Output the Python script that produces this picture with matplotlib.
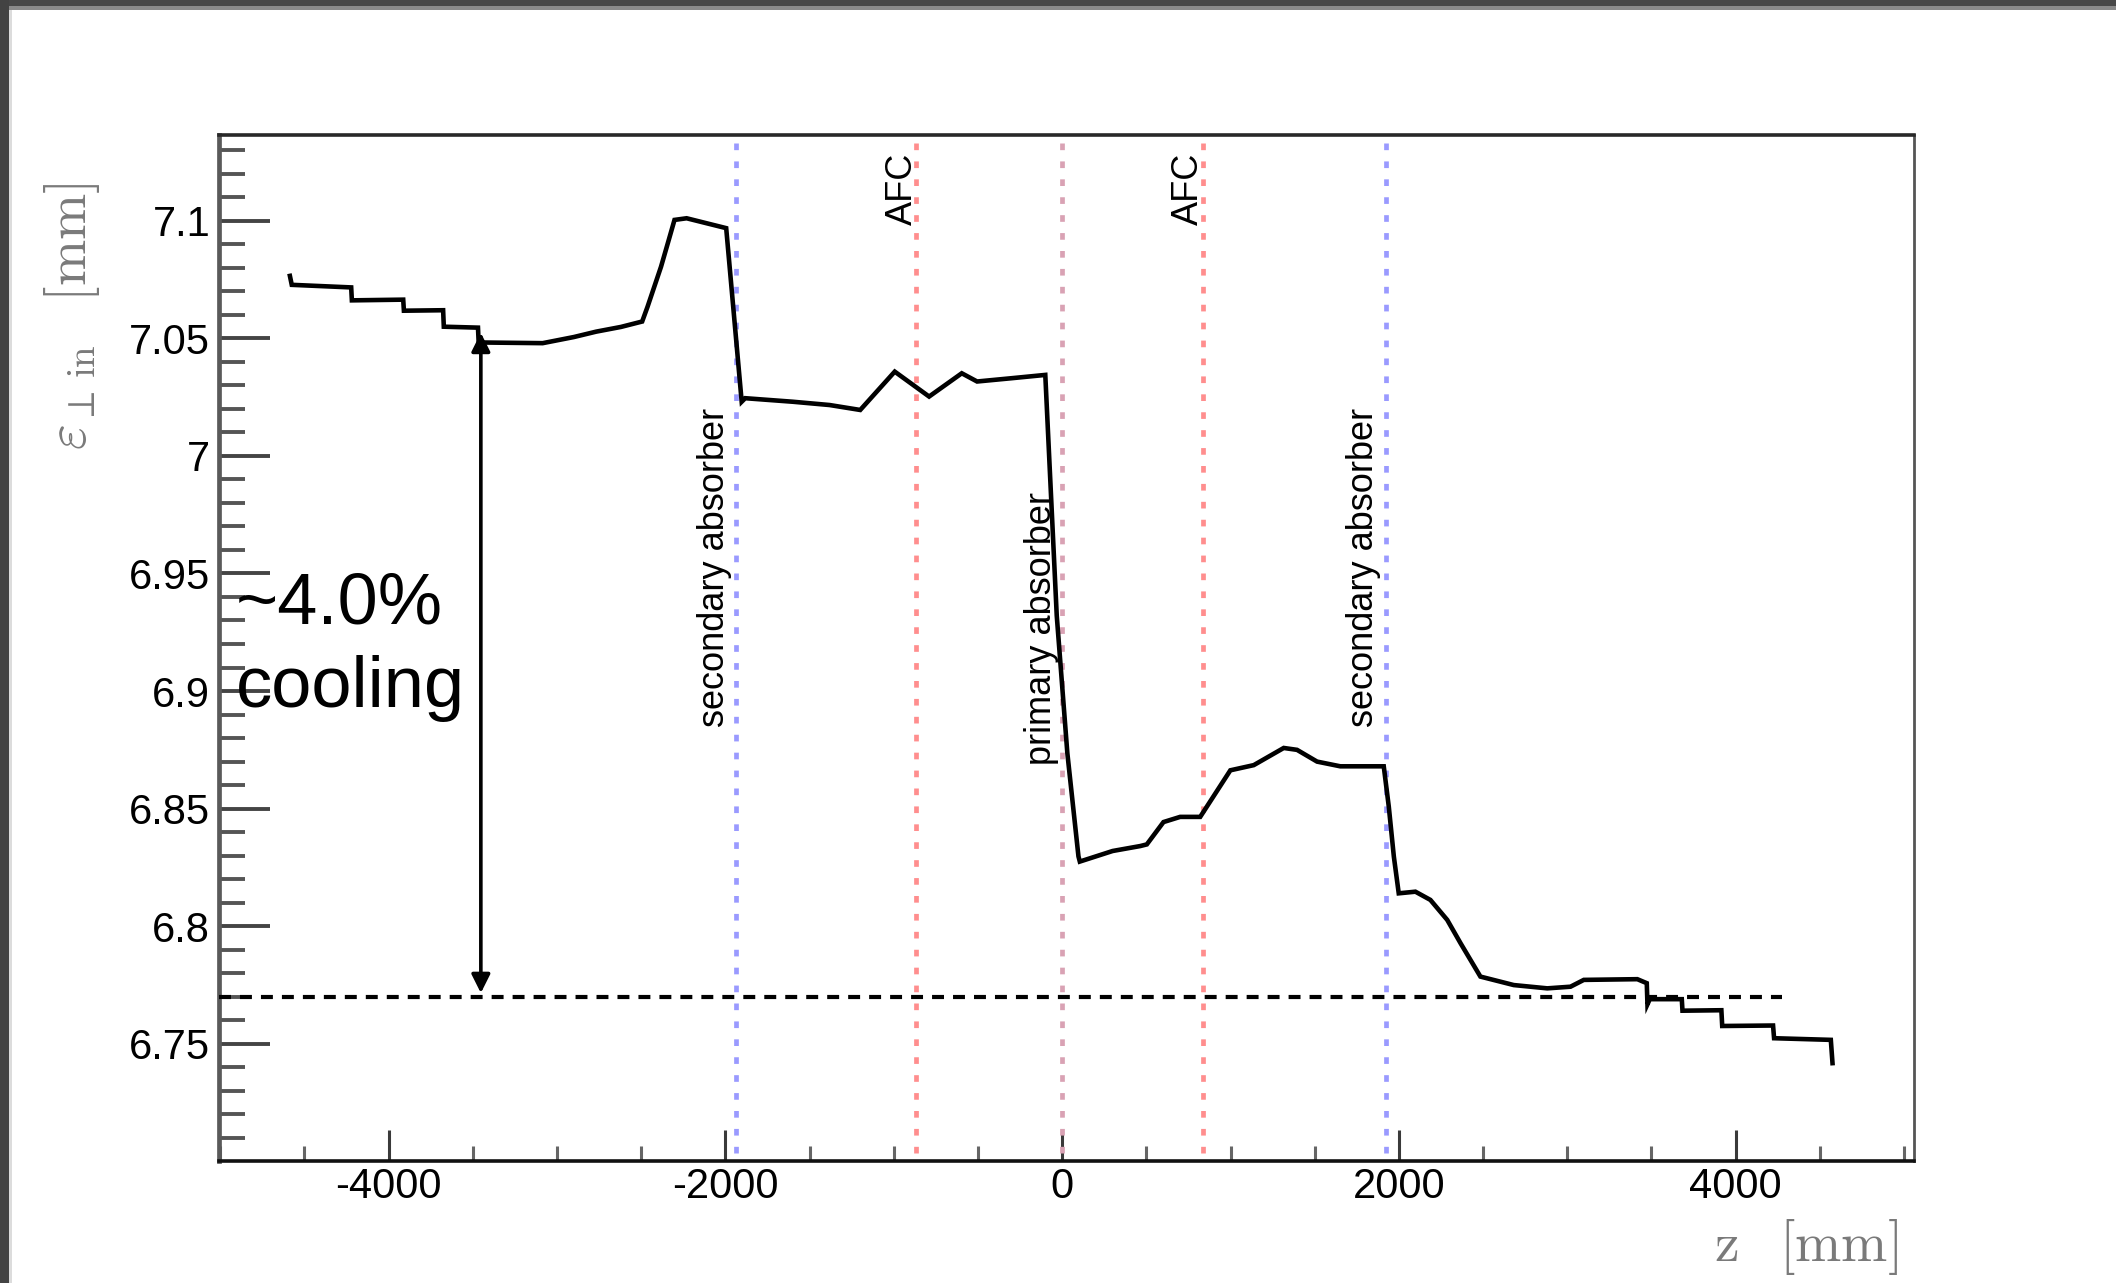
import matplotlib
matplotlib.use("Agg")
import matplotlib.pyplot as plt
from matplotlib.patches import Rectangle, FancyArrowPatch
from matplotlib.ticker import MultipleLocator, FuncFormatter

# Transverse emittance along the cooling channel
z_mm = [-4586, -4575, -4222, -4218, -3913, -3909, -3676, -3672, -3469, -3465,
        -3085, -2900, -2767, -2620, -2494, -2462, -2382, -2336, -2302, -2230,
        -1995, -1903, -1882, -1600, -1381, -1199, -994, -790, -596, -505,
        -300, -100, -71, -32, 31, 97, 105, 300, 464, 503, 602, 701, 820, 999,
        1138, 1316, 1395, 1514, 1652, 1910, 1940, 1970, 1999, 2098, 2187, 2287,
        2366, 2484, 2682, 2881, 3019, 3098, 3416, 3472, 3476, 3490, 3680, 3684,
        3915, 3920, 4222, 4228, 4565, 4575]
emittance_mm = [7.0765, 7.0727, 7.0716, 7.0661, 7.0664, 7.0617, 7.0619, 7.0549, 7.0545, 7.0482,
                7.0479, 7.0505, 7.0528, 7.0548, 7.0571, 7.0634, 7.0804, 7.0918, 7.1003, 7.1010,
                7.0968, 7.0230, 7.0245, 7.0230, 7.0216, 7.0195, 7.0358, 7.0252, 7.0351, 7.0316,
                7.0330, 7.0344, 6.9907, 6.9321, 6.8736, 6.8297, 6.8275, 6.8320, 6.8341, 6.8348,
                6.8443, 6.8465, 6.8465, 6.8663, 6.8685, 6.8758, 6.8750, 6.8700, 6.8680, 6.8680,
                6.8508, 6.8296, 6.8140, 6.8147, 6.8112, 6.8027, 6.7928, 6.7786, 6.7750, 6.7736,
                6.7743, 6.7772, 6.7775, 6.7758, 6.7668, 6.7690, 6.7690, 6.7641, 6.7643, 6.7576,
                6.7578, 6.7524, 6.7517, 6.7418]

# Element positions along z
element_names = ["secondary absorber", "AFC", "primary absorber", "AFC", "secondary absorber"]
element_z = [-1934, -865, 0, 835, 1923]
element_kind = ["secondary", "afc", "primary", "afc", "secondary"]

final_emittance = 6.77
arrow_z = -3452
arrow_top = 7.0523
cooling_text = ["~4.0%", "cooling"]

plt.rcParams["axes.unicode_minus"] = False
plt.rcParams["mathtext.fontset"] = "cm"
plt.rcParams["lines.scale_dashes"] = False
plt.rcParams["font.family"] = ["Liberation Sans", "DejaVu Sans"]

W, H = 2116, 1283
fig = plt.figure(figsize=(W / 100, H / 100), dpi=100)
fig.patch.set_facecolor("white")

# frame bands along the top and left edges
fig.patches.append(Rectangle((0, 1 - 6 / H), 1, 6 / H, transform=fig.transFigure,
                             facecolor="#474747", edgecolor="none", zorder=0))
fig.patches.append(Rectangle((0, 1 - 10 / H), 1, 4 / H, transform=fig.transFigure,
                             facecolor="#8a8a8a", edgecolor="none", zorder=0))
fig.patches.append(Rectangle((0, 0), 9 / W, 1, transform=fig.transFigure,
                             facecolor="#434343", edgecolor="none", zorder=0))
fig.patches.append(Rectangle((9 / W, 0), 3 / W, 1 - 10 / H, transform=fig.transFigure,
                             facecolor="#dcdcdc", edgecolor="none", zorder=0))

ax = fig.add_axes([218.5 / W, 1 - 1161 / H, (1913.5 - 218.5) / W, (1161 - 135) / H])
ax.set_xlim(-5010, 5056)
ax.set_ylim(6.7002, 7.1364)

# spines
for side, col, lw in [("top", "#282828", 2.6), ("bottom", "#111111", 2.6),
                      ("left", "#5a5a5a", 3.4), ("right", "#555555", 2.0)]:
    ax.spines[side].set_color(col)
    ax.spines[side].set_linewidth(lw)

ax.xaxis.set_major_locator(MultipleLocator(2000))
ax.xaxis.set_minor_locator(MultipleLocator(500))
ax.yaxis.set_major_locator(MultipleLocator(0.05))
ax.yaxis.set_minor_locator(MultipleLocator(0.01))
ax.yaxis.set_major_formatter(FuncFormatter(lambda v, p: f"{round(v, 2):g}"))
ax.xaxis.set_major_formatter(FuncFormatter(lambda v, p: f"{int(round(v))}"))

ax.tick_params(axis="y", which="major", direction="in", length=37, width=2.8,
               color="#444444", labelsize=30, pad=6)
ax.tick_params(axis="y", which="minor", direction="in", length=19, width=2.8,
               color="#555555")
ax.tick_params(axis="x", which="major", direction="in", length=22, width=2.2,
               color="#3a3a3a", labelsize=30, pad=4)
ax.tick_params(axis="x", which="minor", direction="in", length=11, width=2.2,
               color="#666666")
ax.tick_params(top=False, right=False, which="both")

# element markers
line_style = {"secondary": "#9a9aff", "afc": "#ff8e8e", "primary": "#d9a2b4"}
label_offset_px = {"secondary": -12.5, "afc": -5, "primary": -11.5}
label_start = {"secondary": 6.8847, "afc": 7.0981, "primary": 6.8686}
for name, zpos, kind in zip(element_names, element_z, element_kind):
    ax.plot([zpos, zpos], [6.7036, 7.1340], color=line_style[kind], lw=3.4,
            dashes=(4.8, 8.1), zorder=2)
    ax.annotate(name, xy=(zpos, label_start[kind]), xycoords="data",
                xytext=(label_offset_px[kind], 0), textcoords="offset pixels",
                rotation=90, rotation_mode="anchor", ha="left", va="baseline",
                fontsize=26, color="black", zorder=4)

# emittance curve
ax.plot(z_mm, emittance_mm, color="black", lw=3.3, solid_joinstyle="miter",
        zorder=3)

# final emittance level
ax.plot([-5010, 4275], [final_emittance, final_emittance], color="black", lw=3.0,
        dashes=(8.6, 6.5), zorder=3, clip_on=False)

# cooling arrow
arrow = FancyArrowPatch((arrow_z, final_emittance + 0.0016), (arrow_z, arrow_top),
                        arrowstyle="<|-|>", mutation_scale=28, lw=2.6,
                        color="black", shrinkA=0, shrinkB=0, zorder=4)
ax.add_patch(arrow)

fig.text(236 / W, 1 - 623 / H, cooling_text[0], fontsize=52, color="black",
         ha="left", va="baseline")
fig.text(236 / W, 1 - 707 / H, cooling_text[1], fontsize=52, color="black",
         ha="left", va="baseline")

# axis titles
fig.text(72 / W, 1 - 182 / H,
         r"$\varepsilon_{\perp\,\mathrm{in}}\;\;\;[\mathrm{mm}]$",
         rotation=90, ha="center", va="top", fontsize=40, color="#7a7a7a")
fig.text(1898 / W, 1 - 1261 / H, r"$\mathrm{z}\;\;\;[\mathrm{mm}]$",
         ha="right", va="baseline", fontsize=40, color="#7a7a7a")

fig.savefig("out.png", dpi=100)
